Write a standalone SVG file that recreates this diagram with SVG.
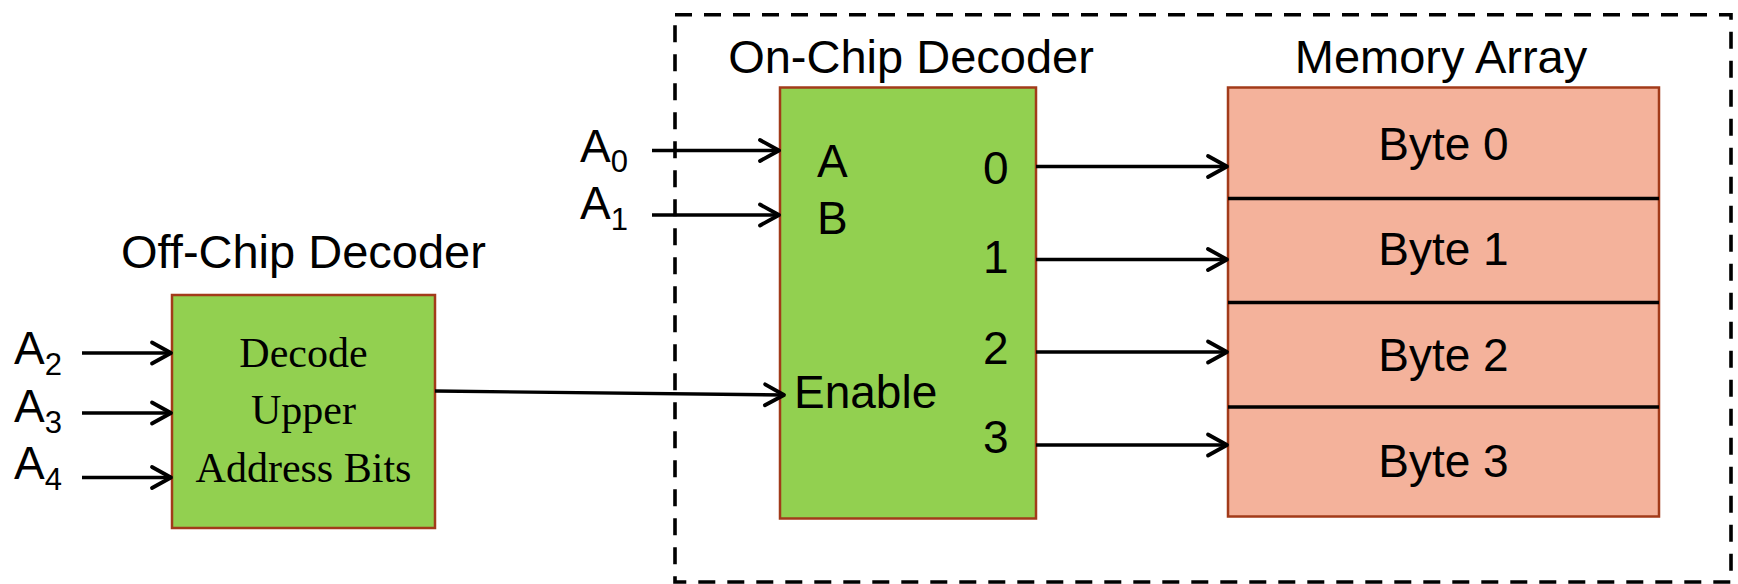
<svg xmlns="http://www.w3.org/2000/svg" width="1738" height="584" viewBox="0 0 1738 584">
<style>
.t{font-family:"Liberation Sans",Arial,sans-serif;fill:#000}
.title{font-size:47px}
.lbl{font-size:46px}
.sub{font-size:31px}
.serif{font-family:"Liberation Serif","Times New Roman",serif;font-size:42px;fill:#000}
.green{fill:#92D050;stroke:#A23B1A;stroke-width:2.5}
.pink{fill:#F4B29B;stroke:#A23B1A;stroke-width:2.5}
.wire{stroke:#000;stroke-width:3.4;fill:none}
.div{stroke:#000;stroke-width:3.4}
</style>
<defs>
<marker id="arr" markerUnits="userSpaceOnUse" markerWidth="30" markerHeight="30" viewBox="-24 -15 30 30" refX="0" refY="0" orient="auto">
<path d="M -19 -10.5 L 0 0 L -19 10.5" fill="none" stroke="#000" stroke-width="3.8" stroke-linecap="round" stroke-linejoin="round"/>
</marker>
</defs>
<rect id="chip-boundary" x="675" y="14.7" width="1056" height="567.3" fill="none" stroke="#000" stroke-width="3.6" stroke-dasharray="17 12"/>
<g id="off-chip-decoder">
<rect class="green" x="172" y="295" width="263" height="233"/>
<text class="t title" x="303.5" y="268" text-anchor="middle">Off-Chip Decoder</text>
<text class="serif" x="303.5" y="367" text-anchor="middle">Decode</text>
<text class="serif" x="303.5" y="424" text-anchor="middle">Upper</text>
<text class="serif" x="303.5" y="481.5" text-anchor="middle">Address Bits</text>
</g>
<g id="on-chip-decoder">
<rect class="green" x="780" y="87.5" width="256" height="431"/>
<text class="t title" x="911" y="72.5" text-anchor="middle">On-Chip Decoder</text>
<text class="t lbl" x="817" y="176.5">A</text>
<text class="t lbl" x="817" y="234">B</text>
<text class="t lbl" x="794" y="408">Enable</text>
<text class="t lbl" x="983" y="184">0</text>
<text class="t lbl" x="983" y="272.5">1</text>
<text class="t lbl" x="983" y="364">2</text>
<text class="t lbl" x="983" y="453">3</text>
</g>
<g id="memory-array">
<rect class="pink" x="1228" y="87.5" width="431" height="429"/>
<text class="t title" x="1441" y="72.5" text-anchor="middle">Memory Array</text>
<line class="div" x1="1228" y1="198.5" x2="1659" y2="198.5"/>
<line class="div" x1="1228" y1="302.5" x2="1659" y2="302.5"/>
<line class="div" x1="1228" y1="407" x2="1659" y2="407"/>
<text class="t lbl" x="1443.5" y="160" text-anchor="middle">Byte 0</text>
<text class="t lbl" x="1443.5" y="265" text-anchor="middle">Byte 1</text>
<text class="t lbl" x="1443.5" y="370.5" text-anchor="middle">Byte 2</text>
<text class="t lbl" x="1443.5" y="476.5" text-anchor="middle">Byte 3</text>
</g>
<g id="input-labels">
<text class="t lbl" x="580" y="161.5">A<tspan class="sub" dy="10">0</tspan></text>
<text class="t lbl" x="580" y="218.5">A<tspan class="sub" dy="11">1</tspan></text>
<text class="t lbl" x="14" y="364">A<tspan class="sub" dy="11">2</tspan></text>
<text class="t lbl" x="14" y="421.5">A<tspan class="sub" dy="11">3</tspan></text>
<text class="t lbl" x="14" y="478.5">A<tspan class="sub" dy="11">4</tspan></text>
</g>
<g id="connectors">
<line class="wire" x1="652" y1="150.5" x2="779" y2="150.5" marker-end="url(#arr)"/>
<line class="wire" x1="652" y1="215" x2="779" y2="215" marker-end="url(#arr)"/>
<line class="wire" x1="82" y1="353" x2="171" y2="353" marker-end="url(#arr)"/>
<line class="wire" x1="82" y1="413" x2="171" y2="413" marker-end="url(#arr)"/>
<line class="wire" x1="82" y1="477.5" x2="171" y2="477.5" marker-end="url(#arr)"/>
<line class="wire" x1="435" y1="391" x2="784" y2="395" marker-end="url(#arr)"/>
<line class="wire" x1="1036" y1="166.5" x2="1227" y2="166.5" marker-end="url(#arr)"/>
<line class="wire" x1="1036" y1="259.5" x2="1227" y2="259.5" marker-end="url(#arr)"/>
<line class="wire" x1="1036" y1="352" x2="1227" y2="352" marker-end="url(#arr)"/>
<line class="wire" x1="1036" y1="445" x2="1227" y2="445" marker-end="url(#arr)"/>
</g>
</svg>
